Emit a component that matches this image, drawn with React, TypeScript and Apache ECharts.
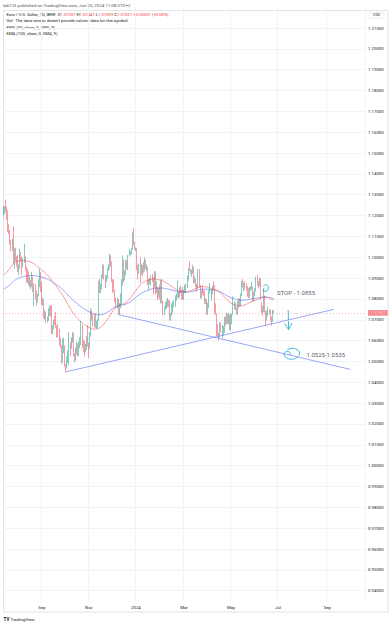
import React, { useEffect, useRef } from "react";
import * as echarts from "echarts";

// ---------- DATA ----------
const startDate = "2023-07-14";
const totalBars = 331; // weekday slots on the time axis (data + right margin)

// Daily OHLC, EUR/USD (IBKR), Jul 14 2023 -> Jun 25 2024, one line per month
const opens = [
  1.1225,1.1228,1.1238,1.1227,1.1200,1.1130,1.1124,1.1064,1.1054,1.1086,1.0978,1.1016,
  1.0998,1.0984,1.0938,1.0948,1.1006,1.1002,1.0958,1.0976,1.0982,1.0946,1.0906,1.0904,1.0872,1.0874,1.0872,1.0894,1.0846,1.0863,1.0808,1.0795,1.0818,1.0880,1.0924,
  1.0843,1.0774,1.0794,1.0720,1.0726,1.0698,1.0700,1.0752,1.0752,1.0731,1.0643,1.0658,1.0689,1.0680,1.0663,1.0660,1.0645,1.0592,1.0570,1.0502,1.0566,
  1.0573,1.0476,1.0468,1.0508,1.0548,1.0588,1.0565,1.0604,1.0620,1.0530,1.0510,1.0559,1.0576,1.0535,1.0578,1.0594,1.0670,1.0590,1.0566,1.0563,1.0565,1.0614,
  1.0576,1.0568,1.0622,1.0728,1.0720,1.0700,1.0710,1.0667,1.0684,1.0701,1.0878,1.0848,1.0852,1.0912,1.0939,1.0906,1.0888,1.0903,1.0940,1.0954,1.0996,1.0970,
  1.0890,1.0884,1.0836,1.0796,1.0764,1.0795,1.0761,1.0763,1.0795,1.0872,1.0989,1.0896,1.0922,1.0980,1.0943,1.1010,1.1012,1.1027,1.1043,1.1107,1.1061,
  1.1039,1.1040,1.0940,1.0922,1.0946,1.0940,1.0950,1.0931,1.0972,1.0973,1.0951,1.0951,1.0877,1.0885,1.0874,1.0897,1.0887,1.0855,1.0885,1.0845,1.0853,1.0834,1.0844,
  1.0818,1.0873,1.0788,1.0743,1.0755,1.0773,1.0781,1.0784,1.0772,1.0708,1.0728,1.0772,1.0777,1.0778,1.0808,1.0817,1.0823,1.0820,1.0851,1.0844,1.0839,
  1.0805,1.0838,1.0855,1.0857,1.0900,1.0947,1.0938,1.0926,1.0927,1.0947,1.0884,1.0888,1.0867,1.0865,1.0938,1.0859,1.0808,1.0838,1.0831,1.0828,1.0790,
  1.0790,1.0742,1.0770,1.0836,1.0837,1.0838,1.0860,1.0856,1.0742,1.0726,1.0641,1.0624,1.0618,1.0672,1.0642,1.0655,1.0655,1.0703,1.0696,1.0728,1.0694,1.0719,
  1.0665,1.0713,1.0726,1.0761,1.0771,1.0753,1.0747,1.0784,1.0770,1.0790,1.0820,1.0883,1.0864,1.0869,1.0858,1.0856,1.0822,1.0819,1.0847,1.0858,1.0858,1.0801,1.0833,
  1.0849,1.0904,1.0877,1.0869,1.0891,1.0765,1.0763,1.0741,1.0806,1.0740,1.0702,1.0736,1.0739,1.0747,1.0702,1.0692,1.07337,
];
const highs = [
  1.1245,1.1246,1.1276,1.1242,1.1225,1.1158,1.1130,1.1085,1.1090,1.1149,1.1043,1.1046,
  1.1005,1.1010,1.0965,1.1040,1.1025,1.1004,1.0997,1.1065,1.1003,1.0954,1.0944,1.0933,1.0905,1.0890,1.0930,1.0908,1.0874,1.0873,1.0841,1.0825,1.0894,1.0945,1.0931,
  1.0882,1.0807,1.0798,1.0748,1.0738,1.0715,1.0755,1.0768,1.0769,1.0768,1.0675,1.0700,1.0718,1.0737,1.0673,1.0680,1.0656,1.0615,1.0578,1.0607,1.0615,
  1.0577,1.0488,1.0525,1.0552,1.0640,1.0594,1.0616,1.0640,1.0639,1.0540,1.0566,1.0594,1.0587,1.0595,1.0616,1.0695,1.0676,1.0605,1.0597,1.0584,1.0624,1.0674,
  1.0591,1.0640,1.0756,1.0746,1.0727,1.0724,1.0732,1.0695,1.0704,1.0887,1.0895,1.0873,1.0918,1.0966,1.0965,1.0916,1.0915,1.0949,1.0965,1.1017,1.1009,1.0980,
  1.0895,1.0893,1.0844,1.0806,1.0804,1.0800,1.0780,1.0827,1.0895,1.1009,1.0990,1.0937,1.0989,1.0986,1.1011,1.1041,1.1030,1.1045,1.1120,1.1139,1.1074,
  1.1047,1.1046,1.0964,1.0969,1.0998,1.0968,1.0963,1.0976,1.0999,1.0988,1.0965,1.0953,1.0893,1.0900,1.0915,1.0920,1.0905,1.0932,1.0933,1.0885,1.0858,1.0852,1.0870,
  1.0888,1.0897,1.0791,1.0764,1.0785,1.0794,1.0805,1.0795,1.0794,1.0733,1.0779,1.0788,1.0792,1.0817,1.0826,1.0888,1.0837,1.0856,1.0864,1.0846,1.0858,
  1.0844,1.0868,1.0873,1.0912,1.0951,1.0981,1.0941,1.0942,1.0964,1.0954,1.0907,1.0898,1.0872,1.0943,1.0942,1.0867,1.0843,1.0865,1.0842,1.0841,1.0803,
  1.0798,1.0783,1.0840,1.0876,1.0847,1.0863,1.0885,1.0866,1.0779,1.0728,1.0679,1.0637,1.0690,1.0683,1.0675,1.0670,1.0713,1.0716,1.0734,1.0728,1.0733,1.0725,
  1.0727,1.0729,1.0812,1.0790,1.0780,1.0759,1.0790,1.0804,1.0801,1.0826,1.0887,1.0895,1.0877,1.0886,1.0876,1.0862,1.0853,1.0858,1.0860,1.0882,1.0860,1.0835,1.0852,
  1.0906,1.0916,1.0885,1.0902,1.0900,1.0785,1.0766,1.0852,1.0816,1.0743,1.0744,1.0761,1.0750,1.0751,1.0716,1.0748,1.07441,
];
const lows = [
  1.1200,1.1205,1.1216,1.1180,1.1120,1.1110,1.1060,1.1026,1.1030,1.0966,1.0945,1.0980,
  1.0955,1.0930,1.0912,1.0945,1.0980,1.0915,1.0950,1.0973,1.0936,1.0878,1.0876,1.0865,1.0856,1.0845,1.0856,1.0833,1.0765,1.0797,1.0766,1.0783,1.0812,1.0856,1.0834,
  1.0771,1.0768,1.0705,1.0702,1.0686,1.0687,1.0695,1.0718,1.0715,1.0632,1.0631,1.0653,1.0675,1.0660,1.0616,1.0616,1.0575,1.0565,1.0488,1.0496,1.0540,
  1.0475,1.0448,1.0466,1.0493,1.0482,1.0525,1.0560,1.0590,1.0525,1.0496,1.0504,1.0533,1.0524,1.0525,1.0563,1.0578,1.0566,1.0545,1.0523,1.0544,1.0555,1.0572,
  1.0516,1.0557,1.0620,1.0696,1.0667,1.0667,1.0660,1.0657,1.0659,1.0695,1.0828,1.0827,1.0845,1.0898,1.0893,1.0852,1.0880,1.0895,1.0934,1.0945,1.0956,1.0880,
  1.0828,1.0833,1.0785,1.0758,1.0754,1.0723,1.0724,1.0755,1.0773,1.0865,1.0880,1.0889,1.0913,1.0941,1.0939,1.1004,1.1010,1.1015,1.1036,1.1056,1.1036,
  1.1030,1.0939,1.0892,1.0920,1.0877,1.0916,1.0910,1.0925,1.0932,1.0945,1.0934,1.0866,1.0844,1.0870,1.0865,1.0880,1.0821,1.0852,1.0822,1.0828,1.0795,1.0808,1.0796,
  1.0779,1.0778,1.0723,1.0722,1.0749,1.0752,1.0761,1.0761,1.0697,1.0695,1.0718,1.0732,1.0760,1.0762,1.0793,1.0805,1.0802,1.0807,1.0828,1.0796,1.0796,
  1.0796,1.0832,1.0828,1.0852,1.0887,1.0935,1.0920,1.0906,1.0921,1.0876,1.0875,1.0856,1.0835,1.0850,1.0852,1.0801,1.0802,1.0822,1.0813,1.0776,1.0775,
  1.0725,1.0724,1.0756,1.0826,1.0791,1.0820,1.0846,1.0729,1.0723,1.0623,1.0621,1.0601,1.0615,1.0640,1.0611,1.0623,1.0637,1.0671,1.0681,1.0677,1.0680,1.0650,
  1.0650,1.0678,1.0724,1.0750,1.0745,1.0725,1.0724,1.0757,1.0763,1.0765,1.0813,1.0855,1.0836,1.0845,1.0840,1.0810,1.0805,1.0806,1.0840,1.0842,1.0788,1.0789,1.0812,
  1.0835,1.0864,1.0850,1.0858,1.0793,1.0732,1.0719,1.0737,1.0736,1.0668,1.0696,1.0716,1.0727,1.0695,1.0671,1.0690,1.07309,
];
const closes = [
  1.1228,1.1238,1.1227,1.1200,1.1130,1.1124,1.1064,1.1054,1.1086,1.0978,1.1016,1.0998,
  1.0984,1.0938,1.0948,1.1006,1.1002,1.0958,1.0976,1.0982,1.0946,1.0906,1.0904,1.0872,1.0874,1.0872,1.0894,1.0846,1.0863,1.0808,1.0795,1.0818,1.0880,1.0924,1.0843,
  1.0774,1.0794,1.0720,1.0726,1.0698,1.0700,1.0752,1.0752,1.0731,1.0643,1.0658,1.0689,1.0680,1.0663,1.0660,1.0645,1.0592,1.0570,1.0502,1.0566,1.0573,
  1.0476,1.0468,1.0508,1.0548,1.0588,1.0565,1.0604,1.0620,1.0530,1.0510,1.0559,1.0576,1.0535,1.0578,1.0594,1.0670,1.0590,1.0566,1.0563,1.0565,1.0614,1.0576,
  1.0568,1.0622,1.0728,1.0720,1.0700,1.0710,1.0667,1.0684,1.0701,1.0878,1.0848,1.0852,1.0912,1.0939,1.0906,1.0888,1.0903,1.0940,1.0954,1.0996,1.0970,1.0890,
  1.0884,1.0836,1.0796,1.0764,1.0795,1.0761,1.0763,1.0795,1.0872,1.0989,1.0896,1.0922,1.0980,1.0943,1.1010,1.1012,1.1027,1.1043,1.1107,1.1061,1.1039,
  1.1040,1.0940,1.0922,1.0946,1.0940,1.0950,1.0931,1.0972,1.0973,1.0951,1.0951,1.0877,1.0885,1.0874,1.0897,1.0887,1.0855,1.0885,1.0845,1.0853,1.0834,1.0844,1.0818,
  1.0873,1.0788,1.0743,1.0755,1.0773,1.0781,1.0784,1.0772,1.0708,1.0728,1.0772,1.0777,1.0778,1.0808,1.0817,1.0823,1.0820,1.0851,1.0844,1.0839,1.0805,
  1.0838,1.0855,1.0857,1.0900,1.0947,1.0938,1.0926,1.0927,1.0947,1.0884,1.0888,1.0867,1.0865,1.0938,1.0859,1.0808,1.0838,1.0831,1.0828,1.0790,1.0790,
  1.0742,1.0770,1.0836,1.0837,1.0838,1.0860,1.0856,1.0742,1.0726,1.0641,1.0624,1.0618,1.0672,1.0642,1.0655,1.0655,1.0703,1.0696,1.0728,1.0694,1.0719,1.0665,
  1.0713,1.0726,1.0761,1.0771,1.0753,1.0747,1.0784,1.0770,1.0790,1.0820,1.0883,1.0864,1.0869,1.0858,1.0856,1.0822,1.0819,1.0847,1.0858,1.0858,1.0801,1.0833,1.0849,
  1.0904,1.0877,1.0869,1.0891,1.0801,1.0763,1.0741,1.0806,1.0740,1.0702,1.0736,1.0739,1.0747,1.0702,1.0692,1.0733,1.07331,
];

// x-axis tick labels
const xTickDates = ["2023-09-01", "2023-11-01", "2024-01-01", "2024-03-01", "2024-05-01", "2024-07-01", "2024-09-02"];
const xTickLabels = ["Sep", "Nov", "2024", "Mar", "May", "Jul", "Sep"];

// price axis range (labels every 0.01 between these)
const yLabelMin = 0.94;
const yLabelMax = 1.21;
const lastPrice = 1.07331;

// indicator settings: starting value (read from left edge), smoothing length
const ema50Seed = 1.0915;
const ema100Seed = 1.0848;
const smoothLen = 9;

// hand-drawn trend lines: [date, price]
const trendUp = [["2023-10-03", 1.045], ["2024-09-10", 1.075]];
const trendDown = [["2023-12-08", 1.0725], ["2024-10-01", 1.0462]];

// text notes: [date, price, text]
const notes = [
  ["2024-06-28", 1.0832, "STOP - 1.0855"],
  ["2024-08-06", 1.0534, "1.0525-1.0535"],
];

// ---------- HELPERS ----------
function weekdays(start: string, n: number): string[] {
  const out: string[] = [];
  const d = new Date(start + "T00:00:00Z");
  while (out.length < n) {
    const wd = d.getUTCDay();
    if (wd !== 0 && wd !== 6) out.push(d.toISOString().slice(0, 10));
    d.setUTCDate(d.getUTCDate() + 1);
  }
  return out;
}
function ema(values: number[], period: number, seed: number): number[] {
  const k = 2 / (period + 1);
  let prev = seed;
  return values.map((v) => (prev = prev + k * (v - prev)));
}
function smooth(values: number[], n: number, seed: number): number[] {
  const padded = new Array(n - 1).fill(seed).concat(values);
  return values.map((_, i) => {
    let s = 0;
    for (let j = i; j < i + n; j++) s += padded[j];
    return +(s / n).toFixed(5);
  });
}

const FONT = "Roboto, 'Noto Sans', sans-serif";

export default function App() {
  const ref = useRef<HTMLDivElement>(null);
  useEffect(() => {
    const el = ref.current!;
    const chart = echarts.init(el, null, { renderer: "svg" });
    const dates = weekdays(startDate, totalBars);
    const idx = (d: string) => dates.indexOf(d);
    const candles = closes.map((c, i) => [opens[i], c, lows[i], highs[i]]);
    const ema50 = smooth(ema(closes, 50, ema50Seed), smoothLen, ema50Seed);
    const ema100 = smooth(ema(closes, 100, ema100Seed), smoothLen, ema100Seed);
    const tickSet = new Set(xTickDates);
    const showTick = (_i: number, v: string) => tickSet.has(v);

    const text = (x: number, y: number, t: string, size: number, fill: string, extra: any = {}) => ({
      type: "text",
      x,
      y,
      silent: true,
      style: { text: t, fontSize: size, fill, fontFamily: FONT, verticalAlign: "middle", ...extra },
    });

    const cyan = "#27b3d1";

    chart.setOption({
      animation: false,
      backgroundColor: "#ffffff",
      textStyle: { fontFamily: FONT },
      grid: { left: 3, right: 27, top: 7.16, bottom: 23.9, containLabel: false },
      xAxis: {
        type: "category",
        data: dates,
        boundaryGap: true,
        axisLine: { show: false },
        axisTick: { show: false },
        axisLabel: {
          interval: showTick,
          formatter: (v: string) => xTickLabels[xTickDates.indexOf(v)] ?? "",
          fontSize: 4.3,
          color: "#131722",
          margin: 4,
          fontFamily: FONT,
        },
        splitLine: { show: true, interval: showTick, lineStyle: { color: "#f0f3fa", width: 1 } },
      },
      yAxis: {
        type: "value",
        position: "right",
        min: 0.935,
        max: 1.22,
        interval: 0.005,
        axisLine: { show: false },
        axisTick: { show: false },
        axisLabel: {
          fontSize: 4.3,
          color: "#131722",
          margin: 3,
          fontFamily: FONT,
          formatter: (v: number) => {
            const r = Math.round(v * 1000);
            if (r % 10 !== 0 || r < yLabelMin * 1000 - 0.5 || r > yLabelMax * 1000 + 0.5) return "";
            return (r / 1000).toFixed(5);
          },
        },
        splitLine: {
          show: true,
          showMinLine: false,
          showMaxLine: false,
          lineStyle: { color: ["#f0f3fa", "rgba(0,0,0,0)"], width: 1 },
        },
      },
      series: [
        {
          type: "line",
          data: ema100,
          showSymbol: false,
          symbol: "none",
          lineStyle: { color: "#7d8df2", width: 0.8 },
          z: 2,
        },
        {
          type: "line",
          data: ema50,
          showSymbol: false,
          symbol: "none",
          lineStyle: { color: "#f57f86", width: 0.8 },
          z: 2,
        },
        {
          type: "candlestick",
          data: candles,
          barWidth: "75%",
          itemStyle: {
            color: "#089981",
            color0: "#f23645",
            borderColor: "#089981",
            borderColor0: "#f23645",
            borderWidth: 0.5,
          },
          z: 3,
          markLine: {
            silent: true,
            precision: 5,
            symbol: ["none", "none"],
            data: [{ yAxis: lastPrice }],
            lineStyle: { color: "#f23645", type: [1, 2], width: 0.6, opacity: 0.6 },
            label: {
              show: true,
              position: "end",
              distance: 3,
              formatter: lastPrice.toFixed(5),
              color: "#ffffff",
              backgroundColor: "#f23645",
              fontSize: 4.3,
              lineHeight: 4.6,
              padding: [0.6, 2, 0.4, 2],
              fontFamily: FONT,
            },
          },
        },
        {
          type: "line",
          data: trendUp.map(([d, v]) => [idx(d as string), v]),
          showSymbol: false,
          symbol: "none",
          lineStyle: { color: "#7d92f5", width: 0.8 },
          z: 4,
        },
        {
          type: "line",
          data: trendDown.map(([d, v]) => [idx(d as string), v]),
          showSymbol: false,
          symbol: "none",
          lineStyle: { color: "#7d92f5", width: 0.8 },
          z: 4,
        },
        {
          type: "scatter",
          data: notes.map(([d, v, t]) => ({ value: [idx(d as string), v], name: t })),
          symbolSize: 0,
          z: 5,
          label: {
            show: true,
            position: "right",
            distance: 0,
            formatter: (p: any) => p.name,
            fontSize: 6,
            color: "#2a2e39",
            fontFamily: FONT,
          },
        },
      ],
      graphic: [
        { type: "rect", silent: true, shape: { x: 3.5, y: 10.5, width: 384.5, height: 601.5 }, style: { fill: "none", stroke: "#e0e3eb", lineWidth: 1 } },
        { type: "rect", silent: true, shape: { x: 369, y: 12.5, width: 15, height: 5.5, r: 1 }, style: { fill: "#fff", stroke: "#e0e3eb", lineWidth: 0.6 } },
        text(376.5, 15.3, "USD", 3.6, "#131722", { align: "center" }),
        text(3, 5, "lab123 published on TradingView.com, Jun 25, 2024 11:08 UTC+2", 4.4, "#50535e"),
        {
          type: "text",
          x: 6.5,
          y: 14.5,
          silent: true,
          style: {
            text: "Euro / U.S. Dollar, 1D, IBKR  {l|O}{v|1.07337} {l|H}{v|1.07441} {l|L}{v|1.07309} {l|C}{v|1.07331} {v|+0.00001 (+0.00%)}",
            fontSize: 4.2,
            fill: "#131722",
            fontFamily: FONT,
            verticalAlign: "middle",
            rich: {
              l: { fontSize: 4.2, fill: "#131722", fontFamily: FONT },
              v: { fontSize: 4.2, fill: "#f23645", fontFamily: FONT },
            },
          },
        },
        text(6.5, 20.8, "Vol · The data vendor doesn't provide volume data for this symbol.", 4.2, "#131722"),
        text(6.5, 27.2, "EMA (50, close, 0, SMA, 9)", 4.2, "#131722"),
        text(6.5, 33.5, "EMA (100, close, 0, SMA, 9)", 4.2, "#131722"),
        text(3.5, 619, "TV", 4.6, "#131722", { fontWeight: "bold" }),
        text(10.5, 619, "TradingView", 4.4, "#131722"),
        // cyan hand-drawn marks
        {
          type: "polyline",
          silent: true,
          shape: { points: [[263, 286.5], [265.5, 284.8], [268, 286], [268.3, 289], [266, 291.2], [263, 290.5], [264.5, 289]], smooth: 0.5 },
          style: { stroke: cyan, lineWidth: 0.9, fill: "none" },
        },
        {
          type: "polyline",
          silent: true,
          shape: { points: [[288.2, 310], [288.4, 320], [288.6, 329.5]] },
          style: { stroke: cyan, lineWidth: 0.9, fill: "none" },
        },
        {
          type: "polyline",
          silent: true,
          shape: { points: [[284.5, 323.5], [288.6, 329.5], [292.3, 323]] },
          style: { stroke: cyan, lineWidth: 0.9, fill: "none" },
        },
        {
          type: "polyline",
          silent: true,
          shape: {
            points: [[287, 350], [292, 348.3], [297, 349.5], [299.5, 353], [297, 357.5], [291, 359.2], [286, 357.5], [284, 354], [286.5, 351.5], [290, 352.5], [290, 355]],
            smooth: 0.4,
          },
          style: { stroke: cyan, lineWidth: 0.9, fill: "none" },
        },
      ],
    });
    return () => chart.dispose();
  }, []);
  return (
    <div
      ref={ref}
      style={{ position: "fixed", left: 0, top: 0, width: 392, height: 625, background: "#fff" }}
    />
  );
}
